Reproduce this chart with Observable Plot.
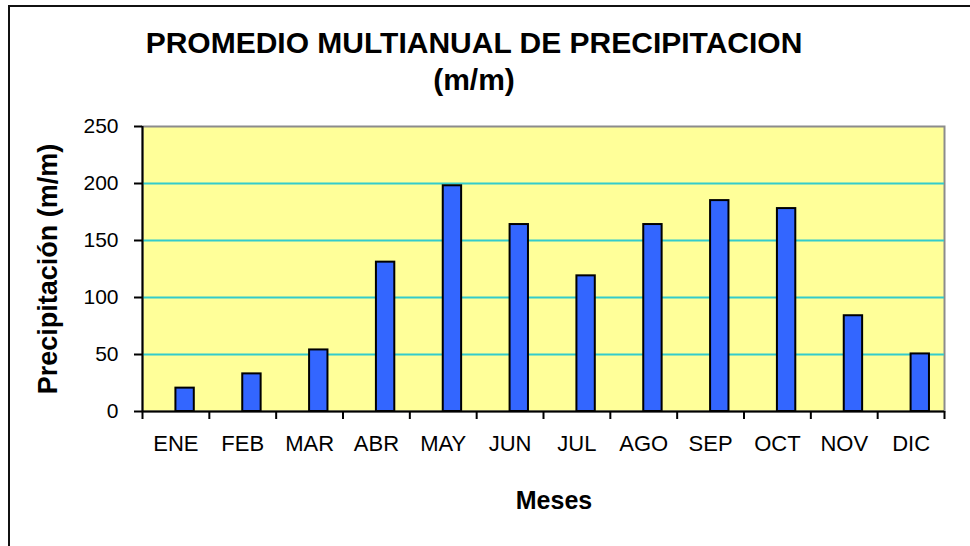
<!DOCTYPE html>
<html>
<head>
<meta charset="utf-8">
<script src="https://cdn.jsdelivr.net/npm/d3@7"></script>
<script src="https://cdn.jsdelivr.net/npm/@observablehq/plot@0.6"></script>
<style>
  html, body { margin: 0; padding: 0; background: #fff; }
  #wrap { position: relative; width: 970px; height: 546px; overflow: hidden; font-family: "Liberation Sans", Arial, sans-serif; }
  #border { position: absolute; left: 8px; top: 5px; width: 980px; height: 560px; border-left: 2px solid #111; border-top: 2px solid #111; box-sizing: border-box; }
  .t { position: absolute; font-weight: bold; color: #000; white-space: nowrap; text-align: center; }
  #title1 { left: 0; width: 948px; top: 28px; font-size: 30px; line-height: 30px; }
  #title2 { left: 0; width: 948px; top: 65px; font-size: 30px; line-height: 30px; }
  #ylab { left: 48px; top: 269px; font-size: 27px; line-height: 27px; transform: translate(-50%, -50%) rotate(-90deg); }
  #xlab { left: 554px; top: 488px; font-size: 25px; line-height: 25px; transform: translateX(-50%); }
  #chart { position: absolute; left: 0; top: 0; }
</style>
</head>
<body>
<div id="wrap">
  <div id="chart"></div>
  <div id="border"></div>
  <div class="t" id="title1">PROMEDIO MULTIANUAL DE PRECIPITACION</div>
  <div class="t" id="title2">(m/m)</div>
  <div class="t" id="ylab">Precipitación (m/m)</div>
  <div class="t" id="xlab">Meses</div>
</div>
<script>
const meses = ["ENE","FEB","MAR","ABR","MAY","JUN","JUL","AGO","SEP","OCT","NOV","DIC"];
const precipitacion = [20.5, 33, 54, 131, 198, 164, 119, 164, 185, 178, 84, 50.5];
const yTicks = [0, 50, 100, 150, 200, 250];
const gridTicks = [50, 100, 150, 200];

const data = meses.map((m, i) => ({mes: m, valor: precipitacion[i]}));

const W = 970, H = 546;
const mL = 142, mR = 26, mT = 126, mB = 135;
const bw = (W - mL - mR) / meses.length;

const plot = Plot.plot({
  width: W,
  height: H,
  marginLeft: mL,
  marginRight: mR,
  marginTop: mT,
  marginBottom: mB,
  style: {fontFamily: "'Liberation Sans', Arial, sans-serif", fontSize: "21px", color: "#000", background: "transparent"},
  x: {domain: meses, padding: 0, round: false, axis: null},
  y: {domain: [0, 250], axis: null},
  marks: [
    Plot.frame({fill: "#FFFF99", stroke: "#8c8c8c", strokeWidth: 2}),
    Plot.ruleY(gridTicks, {stroke: "#33CCCC", strokeWidth: 2}),
    Plot.barY(data, {x: "mes", y: "valor", fill: "#3366FF", stroke: "#000", strokeWidth: 2,
      insetLeft: bw * 0.5, insetRight: bw * 0.225}),
    Plot.ruleX([meses[0]], {dx: -bw / 2, stroke: "#000", strokeWidth: 2}),
    Plot.ruleY([0], {stroke: "#000", strokeWidth: 2}),
    Plot.axisY({ticks: yTicks, tickSize: 8, tickPadding: 16, fontSize: 21, label: null, stroke: "#000", strokeWidth: 2}),
    Plot.axisX({ticks: meses, tickSize: 8, dx: -bw / 2, tickFormat: () => "", label: null, strokeWidth: 2}),
    Plot.axisX({ticks: [meses[meses.length - 1]], tickSize: 8, dx: bw / 2, tickFormat: () => "", label: null, strokeWidth: 2}),
    Plot.axisX({ticks: meses, tickSize: 0, tickPadding: 24, fontSize: 22, label: null})
  ]
});
document.getElementById("chart").appendChild(plot);
</script>
</body>
</html>
